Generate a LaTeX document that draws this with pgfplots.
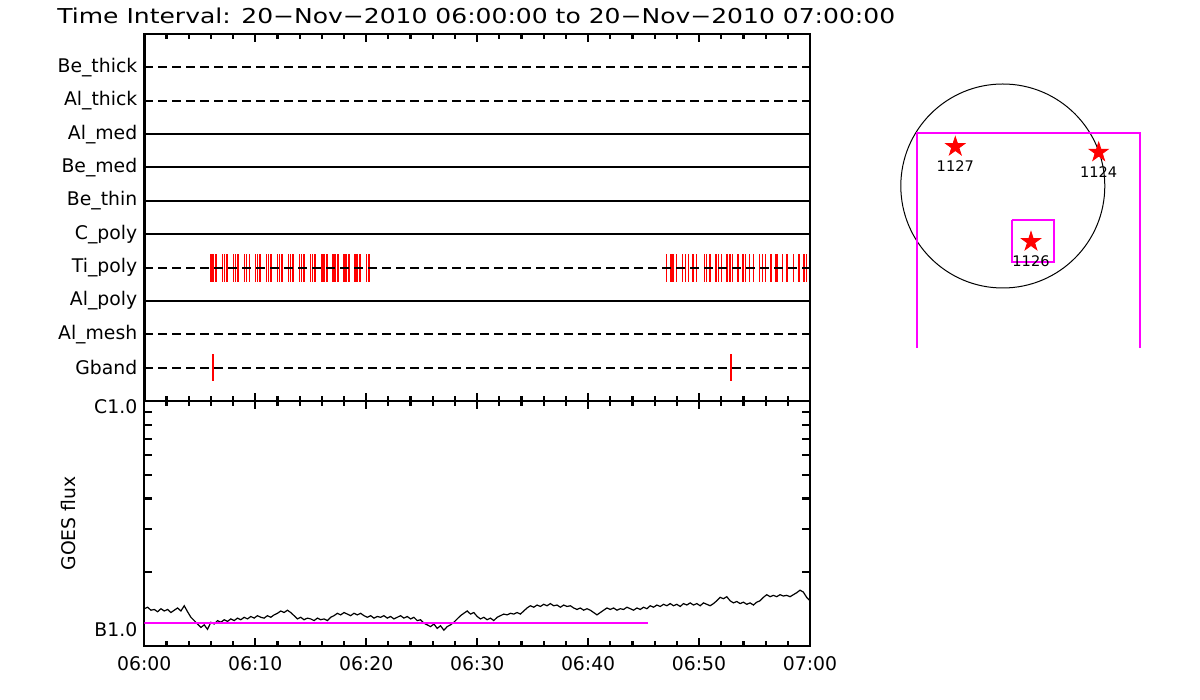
\documentclass[border=0pt]{standalone}
\usepackage{fontspec}
\setmainfont{DejaVu Sans}
\newfontfamily\titlefont[FakeStretch=1.22]{DejaVu Sans}
\usepackage{pgfplots}
\usepackage{pgfplotstable}
\pgfplotsset{compat=1.18}
\definecolor{mag}{RGB}{255,0,255}

\pgfdeclareplotmark{fstar}{%
  \pgfpathmoveto{\pgfpoint{0pt}{\pgfplotmarksize}}%
  \pgfpathlineto{\pgfpoint{-0.2245\pgfplotmarksize}{0.309\pgfplotmarksize}}%
  \pgfpathlineto{\pgfpoint{-0.951\pgfplotmarksize}{0.309\pgfplotmarksize}}%
  \pgfpathlineto{\pgfpoint{-0.363\pgfplotmarksize}{-0.118\pgfplotmarksize}}%
  \pgfpathlineto{\pgfpoint{-0.588\pgfplotmarksize}{-0.809\pgfplotmarksize}}%
  \pgfpathlineto{\pgfpoint{0pt}{-0.382\pgfplotmarksize}}%
  \pgfpathlineto{\pgfpoint{0.588\pgfplotmarksize}{-0.809\pgfplotmarksize}}%
  \pgfpathlineto{\pgfpoint{0.363\pgfplotmarksize}{-0.118\pgfplotmarksize}}%
  \pgfpathlineto{\pgfpoint{0.951\pgfplotmarksize}{0.309\pgfplotmarksize}}%
  \pgfpathlineto{\pgfpoint{0.2245\pgfplotmarksize}{0.309\pgfplotmarksize}}%
  \pgfpathclose
  \pgfusepathqfillstroke}

% GOES flux (minutes after 06:00, W/m^2)
\pgfplotstableread{
t f
0.0 1.42e-7
0.3 1.44e-7
0.6 1.40e-7
0.9 1.41e-7
1.2 1.38e-7
1.5 1.42e-7
1.8 1.39e-7
2.1 1.41e-7
2.4 1.37e-7
2.7 1.40e-7
3.0 1.43e-7
3.3 1.39e-7
3.6 1.46e-7
3.9 1.38e-7
4.2 1.31e-7
4.5 1.27e-7
4.8 1.23e-7
5.1 1.19e-7
5.4 1.22e-7
5.7 1.17e-7
6.0 1.25e-7
6.3 1.23e-7
6.6 1.27e-7
6.9 1.25e-7
7.2 1.28e-7
7.5 1.26e-7
7.8 1.29e-7
8.1 1.27e-7
8.4 1.30e-7
8.7 1.28e-7
9.0 1.31e-7
9.3 1.29e-7
9.6 1.32e-7
9.9 1.30e-7
10.2 1.33e-7
10.5 1.31e-7
10.8 1.30e-7
11.1 1.33e-7
11.4 1.31e-7
11.7 1.34e-7
12.0 1.36e-7
12.3 1.39e-7
12.6 1.37e-7
12.9 1.40e-7
13.2 1.37e-7
13.5 1.33e-7
13.8 1.29e-7
14.1 1.31e-7
14.4 1.28e-7
14.7 1.30e-7
15.0 1.29e-7
15.3 1.27e-7
15.6 1.30e-7
15.9 1.28e-7
16.2 1.29e-7
16.5 1.27e-7
16.8 1.31e-7
17.1 1.33e-7
17.4 1.36e-7
17.7 1.34e-7
18.0 1.37e-7
18.3 1.35e-7
18.6 1.33e-7
18.9 1.36e-7
19.2 1.34e-7
19.5 1.36e-7
19.8 1.33e-7
20.1 1.31e-7
20.4 1.33e-7
20.7 1.30e-7
21.0 1.32e-7
21.3 1.31e-7
21.6 1.33e-7
21.9 1.30e-7
22.2 1.32e-7
22.5 1.29e-7
22.8 1.31e-7
23.1 1.33e-7
23.4 1.30e-7
23.7 1.32e-7
24.0 1.29e-7
24.3 1.31e-7
24.6 1.27e-7
24.9 1.28e-7
25.2 1.24e-7
25.5 1.22e-7
25.8 1.20e-7
26.1 1.23e-7
26.4 1.18e-7
26.7 1.21e-7
27.0 1.16e-7
27.3 1.20e-7
27.6 1.22e-7
27.9 1.25e-7
28.2 1.29e-7
28.5 1.33e-7
28.8 1.36e-7
29.1 1.39e-7
29.4 1.35e-7
29.7 1.37e-7
30.0 1.32e-7
30.3 1.29e-7
30.6 1.31e-7
30.9 1.28e-7
31.2 1.30e-7
31.5 1.27e-7
31.8 1.31e-7
32.1 1.33e-7
32.4 1.35e-7
32.7 1.34e-7
33.0 1.36e-7
33.3 1.35e-7
33.6 1.37e-7
33.9 1.35e-7
34.2 1.39e-7
34.5 1.43e-7
34.8 1.46e-7
35.1 1.44e-7
35.4 1.47e-7
35.7 1.45e-7
36.0 1.48e-7
36.3 1.46e-7
36.6 1.49e-7
36.9 1.46e-7
37.2 1.47e-7
37.5 1.44e-7
37.8 1.47e-7
38.1 1.45e-7
38.4 1.46e-7
38.7 1.43e-7
39.0 1.41e-7
39.3 1.43e-7
39.6 1.40e-7
39.9 1.42e-7
40.2 1.40e-7
40.5 1.37e-7
40.8 1.34e-7
41.1 1.37e-7
41.4 1.40e-7
41.7 1.43e-7
42.0 1.41e-7
42.3 1.43e-7
42.6 1.40e-7
42.9 1.42e-7
43.2 1.41e-7
43.5 1.44e-7
43.8 1.42e-7
44.1 1.40e-7
44.4 1.43e-7
44.7 1.41e-7
45.0 1.44e-7
45.3 1.42e-7
45.6 1.46e-7
45.9 1.44e-7
46.2 1.47e-7
46.5 1.45e-7
46.8 1.48e-7
47.1 1.46e-7
47.4 1.49e-7
47.7 1.46e-7
48.0 1.48e-7
48.3 1.45e-7
48.6 1.49e-7
48.9 1.47e-7
49.2 1.50e-7
49.5 1.47e-7
49.8 1.49e-7
50.1 1.46e-7
50.4 1.50e-7
50.7 1.48e-7
51.0 1.46e-7
51.3 1.49e-7
51.6 1.53e-7
51.9 1.58e-7
52.2 1.56e-7
52.5 1.59e-7
52.8 1.53e-7
53.1 1.50e-7
53.4 1.52e-7
53.7 1.49e-7
54.0 1.51e-7
54.3 1.48e-7
54.6 1.50e-7
54.9 1.47e-7
55.2 1.51e-7
55.5 1.53e-7
55.8 1.58e-7
56.1 1.62e-7
56.4 1.59e-7
56.7 1.61e-7
57.0 1.59e-7
57.3 1.62e-7
57.6 1.60e-7
57.9 1.61e-7
58.2 1.59e-7
58.5 1.62e-7
58.8 1.65e-7
59.1 1.69e-7
59.4 1.66e-7
59.7 1.58e-7
60.0 1.53e-7
}\goesdata

% Ti_poly detections (minutes after 06:00); y = lower end of the tick
\pgfplotstableread{
t y
6.01 3.58
6.19 3.58
6.46 3.58
7.04 3.58
7.22 3.58
7.46 3.58
8.04 3.58
8.22 3.58
8.46 3.58
9.04 3.58
9.22 3.58
9.46 3.58
10.03 3.58
10.21 3.58
10.45 3.58
11.02 3.58
11.20 3.58
11.44 3.58
12.01 3.58
12.19 3.58
12.43 3.58
13.00 3.58
13.18 3.58
13.42 3.58
13.99 3.58
14.17 3.58
14.41 3.58
14.98 3.58
15.16 3.58
15.40 3.58
16.03 3.58
16.21 3.58
16.45 3.58
17.02 3.58
17.20 3.58
17.44 3.58
18.01 3.58
18.19 3.58
18.43 3.58
19.00 3.58
19.18 3.58
19.42 3.58
20.02 3.58
20.26 3.58
47.07 3.58
47.46 3.58
47.67 3.58
47.97 3.58
48.49 3.58
48.79 3.58
49.03 3.58
49.47 3.58
49.78 3.58
50.47 3.58
50.68 3.58
50.98 3.58
51.52 3.58
51.76 3.58
52.03 3.58
52.54 3.58
52.79 3.58
53.03 3.58
53.50 3.58
53.98 3.58
54.20 3.58
54.56 3.58
54.89 3.58
55.46 3.58
55.70 3.58
56.00 3.58
56.48 3.58
56.95 3.58
57.02 3.58
57.54 3.58
57.92 3.58
57.99 3.58
58.50 3.58
58.95 3.58
59.02 3.58
59.46 3.58
59.70 3.58
}\tidata

\pgfplotstableread{
t y
6.20 0.60
52.88 0.60
}\gbanddata

\pgfplotstableread{
x y lab
955.3 146.7 1127
1098.7 152.3 1124
1031.0 241.7 1126
}\ardata

\pgfplotsset{idl/.style={
  scale only axis, anchor=south west,
  xmin=0, xmax=60, xtick={0,10,...,60}, minor x tick num=4,
  tick align=inside, xtick pos=both,
  axis line style={line width=1.2pt},
  every tick/.style={black, line width=1.1pt},
  major tick length=4pt, minor tick length=2.3pt,
  tick label style={font=\fontsize{9.4}{11}\selectfont},
}}

\begin{document}
\begin{tikzpicture}
\useasboundingbox (0pt,0pt) rectangle (600pt,350pt);

% ---------- upper panel: filter states ----------
\begin{axis}[idl,
  at={(72.15pt,149.5pt)}, width=332.85pt, height=183.5pt,
  ymin=0, ymax=11, ytick={1,...,10},
  yticklabels={Gband,Al\_mesh,Al\_poly,Ti\_poly,C\_poly,Be\_thin,Be\_med,Al\_med,Al\_thick,Be\_thick},
  ytick pos=left, ytick style={draw=none},
  xticklabels={},
]
\addplot[red, line width=0.75pt, quiver={u=0, v=0.84}] table[x=t, y=y] {\tidata};
\addplot[red, line width=0.6pt, quiver={u=0, v=0.80}] table[x=t, y=y] {\gbanddata};
\addplot[black, line width=1pt, dash pattern=on 4.5pt off 2.5pt] coordinates {(0,10) (60,10)};
\addplot[black, line width=1pt, dash pattern=on 4.5pt off 2.5pt] coordinates {(0,9) (60,9)};
\addplot[black, line width=1pt] coordinates {(0,8) (60,8)};
\addplot[black, line width=1pt] coordinates {(0,7) (60,7)};
\addplot[black, line width=1pt] coordinates {(0,6) (60,6)};
\addplot[black, line width=1pt] coordinates {(0,5) (60,5)};
\addplot[black, line width=1pt, dash pattern=on 4.5pt off 2.5pt] coordinates {(0,4) (60,4)};
\addplot[black, line width=1pt] coordinates {(0,3) (60,3)};
\addplot[black, line width=1pt, dash pattern=on 4.5pt off 2.5pt] coordinates {(0,2) (60,2)};
\addplot[black, line width=1pt, dash pattern=on 4.5pt off 2.5pt] coordinates {(0,1) (60,1)};
\end{axis}

% ---------- lower panel: GOES flux ----------
\begin{axis}[idl,
  at={(72.15pt,27pt)}, width=332.85pt, height=122.5pt,
  ymode=log, ymin=1e-7, ymax=1e-6,
  ytick={1e-7,2e-7,3e-7,4e-7,5e-7,6e-7,7e-7,8e-7,9e-7,1e-6},
  yticklabels={\smash{\raisebox{4.6pt}{B1.0}},{},{},{},{},{},{},{},{},\smash{\raisebox{-6.4pt}{C1.0}}},
  ytick pos=both,
  xticklabels={06:00,06:10,06:20,06:30,06:40,06:50,07:00},
  xticklabel style={yshift=-1.5pt},
  ylabel={GOES flux},
  every axis y label/.style={at={(axis description cs:0,0.5)}, xshift=-38pt, rotate=90, anchor=center, font=\fontsize{9.4}{11}\selectfont},
]
\addplot[black, line width=0.6pt] table[x=t, y=f] {\goesdata};
\addplot[mag, line width=1pt] coordinates {(0,1.245e-7) (45.4,1.245e-7)};
\end{axis}

% ---------- overlay: title and context map ----------
\begin{axis}[at={(0pt,0pt)}, anchor=south west, scale only axis,
  width=600pt, height=350pt, xmin=0, xmax=1200, ymin=0, ymax=700,
  y dir=reverse, hide axis, clip=false]
\node[anchor=west, inner sep=0pt, font=\titlefont\fontsize{10.25}{12}\selectfont] at (axis cs:57,16)
  {Time Interval: 20−Nov−2010 06:00:00 to 20−Nov−2010 07:00:00};
\draw[black, line width=0.5pt] (axis cs:1002.8,186) circle[radius=51pt];
\addplot[mag, line width=1pt] coordinates {(916.7,348) (916.7,132.7) (1140,132.7) (1140,348)};
\addplot[mag, line width=1pt] coordinates {(1011.7,220) (1054.3,220) (1054.3,262.3) (1011.7,262.3) (1011.7,220)};
\addplot[only marks, mark=fstar, mark size=5pt, red, mark options={fill=red, draw=red},
  nodes near coords, point meta=explicit symbolic,
  every node near coord/.style={black, anchor=center, yshift=-9.75pt, font=\fontsize{7.3}{8.5}\selectfont}]
  table[x=x, y=y, meta=lab] {\ardata};
\end{axis}
\end{tikzpicture}
\end{document}
